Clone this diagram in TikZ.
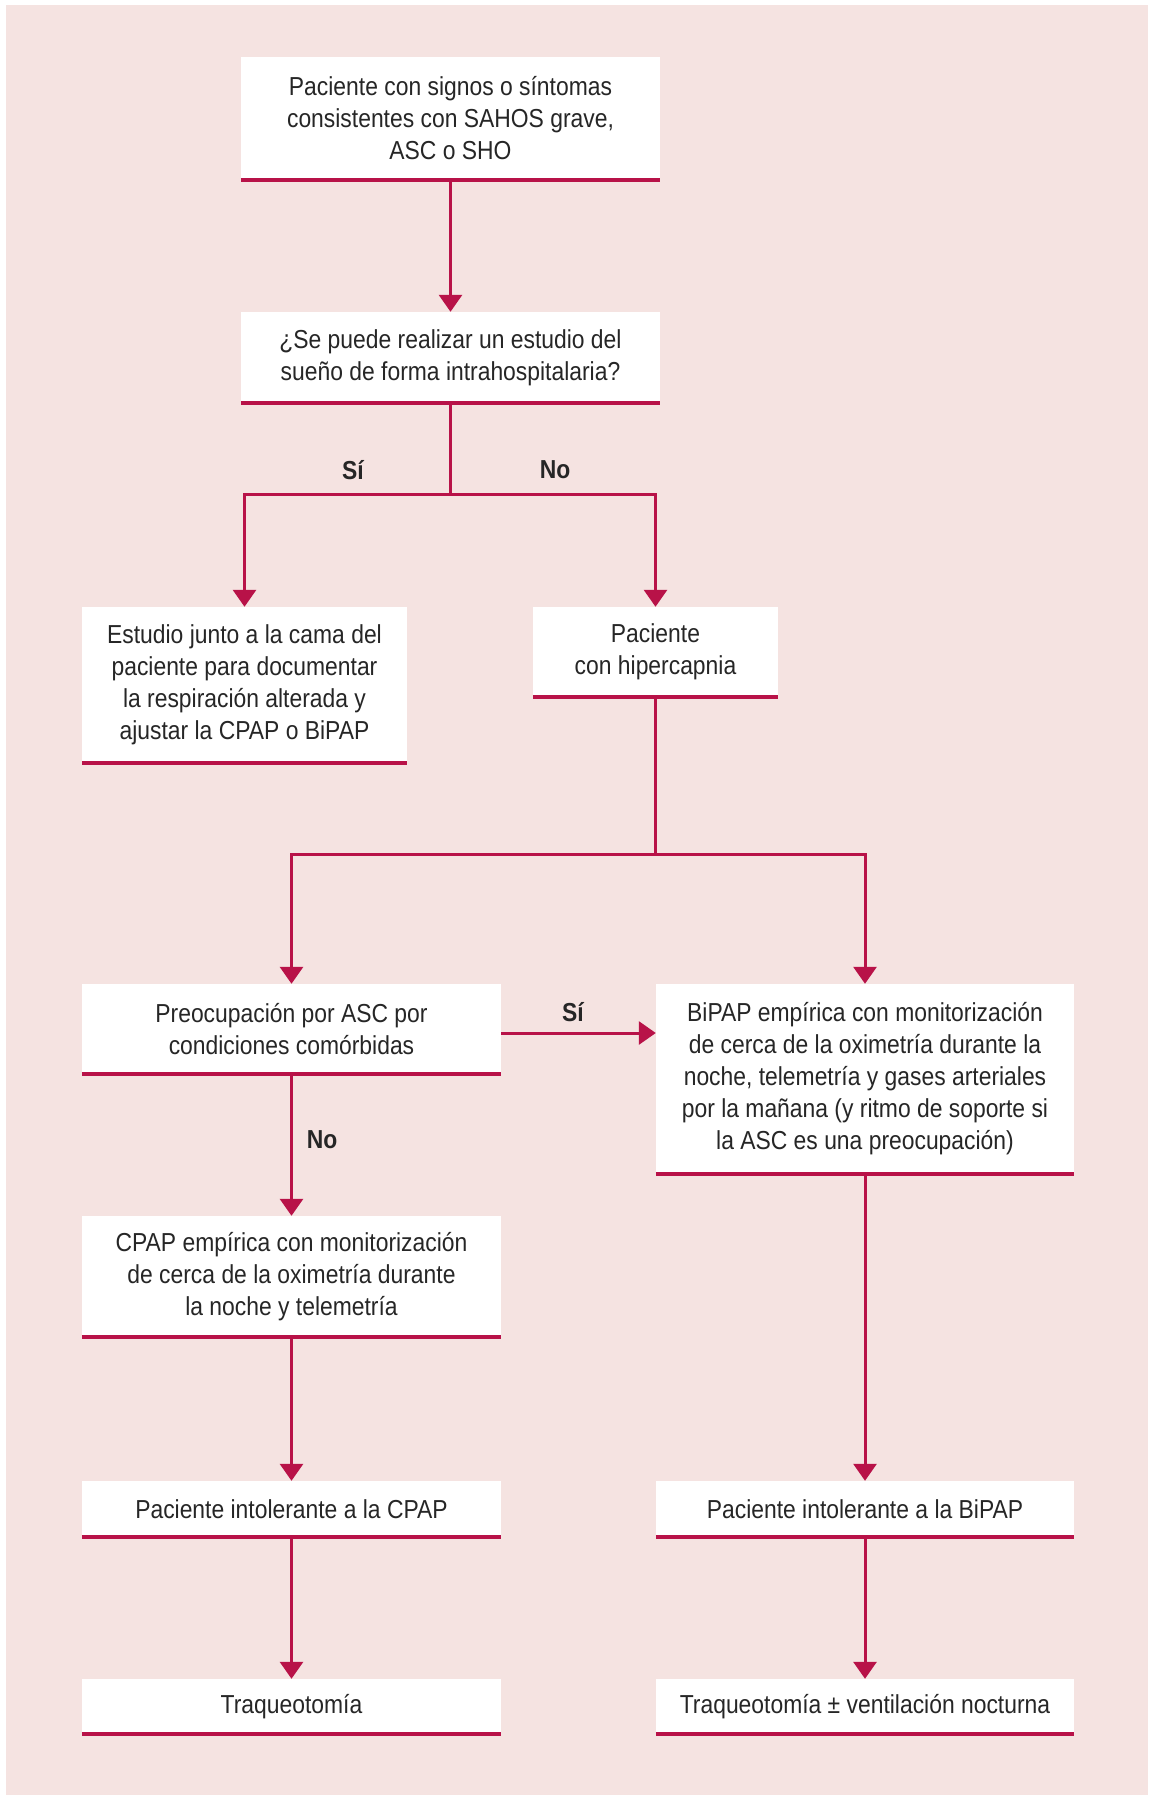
\documentclass[tikz,border=0pt]{standalone}
\usepackage{fontspec}
\setmainfont{Liberation Sans}[FakeStretch=0.88]
\usetikzlibrary{arrows.meta}
\definecolor{bgpink}{HTML}{F5E3E1}
\definecolor{crimson}{HTML}{B81248}
\definecolor{ink}{HTML}{262626}
\begin{document}
\begin{tikzpicture}[x=1pt,y=-1pt,
  box/.style={fill=white, inner sep=0pt, align=center, text=ink,
    font=\fontsize{26}{32}\selectfont},
  link/.style={draw=crimson, line width=3pt, -{Triangle[width=23pt,length=17pt]}},
  plain/.style={draw=crimson, line width=3pt},
  bar/.style={draw=crimson, line width=4.5pt},
  tag/.style={text=ink, inner sep=0pt, font=\fontsize{26}{32}\selectfont\bfseries}]
% page and background panel
\useasboundingbox (0,0) rectangle (1148,1795);
\fill[white] (0,0) rectangle (1148,1795);
\fill[bgpink] (6,5) rectangle (1148,1795);

% boxes
\node[box, minimum width=419pt, minimum height=123pt] (b1) at (450.5,118.5)
  {Paciente con signos o síntomas\\consistentes con SAHOS grave,\\ASC o SHO};
\node[box, minimum width=419pt, minimum height=91pt] (b2) at (450.5,357.5)
  {¿Se puede realizar un estudio del\\sueño de forma intrahospitalaria?};
\node[box, minimum width=325pt, minimum height=156pt] (b3) at (244.5,685)
  {Estudio junto a la cama del\\paciente para documentar\\la respiración alterada y\\ajustar la CPAP o BiPAP};
\node[box, minimum width=245pt, minimum height=90pt] (b4) at (655.5,652)
  {Paciente\\con hipercapnia};
\node[box, minimum width=419pt, minimum height=90pt] (b5) at (291.5,1029)
  {Preocupación por ASC por\\condiciones comórbidas};
\node[box, minimum width=418pt, minimum height=190pt] (b6) at (865,1079)
  {BiPAP empírica con monitorización\\de cerca de la oximetría durante la\\noche, telemetría y gases arteriales\\por la mañana (y ritmo de soporte si\\la ASC es una preocupación)};
\node[box, minimum width=419pt, minimum height=121pt] (b7) at (291.5,1276.5)
  {CPAP empírica con monitorización\\de cerca de la oximetría durante\\la noche y telemetría};
\node[box, minimum width=419pt, minimum height=56pt] (b8) at (291.5,1509)
  {Paciente intolerante a la CPAP};
\node[box, minimum width=418pt, minimum height=56pt] (b9) at (865,1509)
  {Paciente intolerante a la BiPAP};
\node[box, minimum width=419pt, minimum height=55pt] (b10) at (291.5,1706.5)
  {Traqueotomía};
\node[box, minimum width=418pt, minimum height=55pt] (b11) at (865,1706.5)
  {Traqueotomía ± ventilación nocturna};

% bottom rules of the boxes
\foreach \b in {b1,b2,b3,b4,b5,b6,b7,b8,b9,b10,b11}
  \draw[bar] (\b.south west) -- (\b.south east);

% branch points
\coordinate (j1) at (450.5,494);
\coordinate (j2) at (655.5,854);

% connectors
\draw[link] (b1.south) -- (b2.north);
\draw[plain] (b2.south) -- (j1);
\draw[link] (j1) -| (b3.north);
\draw[link] (j1) -| (b4.north);
\draw[plain] (b4.south) -- (j2);
\draw[link] (j2) -| (b5.north);
\draw[link] (j2) -| (b6.north);
\draw[link] ([yshift=-4pt]b5.east) -- ([yshift=-4pt]b5.east -| b6.west);
\draw[link] (b5.south) -- (b7.north);
\draw[link] (b7.south) -- (b8.north);
\draw[link] (b8.south) -- (b10.north);
\draw[link] (b6.south) -- (b9.north);
\draw[link] (b9.south) -- (b11.north);

% branch labels
\node[tag] (s1) at (353,470) {Sí};
\node[tag] (n1) at (555,470) {No};
\node[tag] (s2) at (573,1012) {Sí};
\node[tag] (n2) at (322,1140) {No};
\end{tikzpicture}
\end{document}
